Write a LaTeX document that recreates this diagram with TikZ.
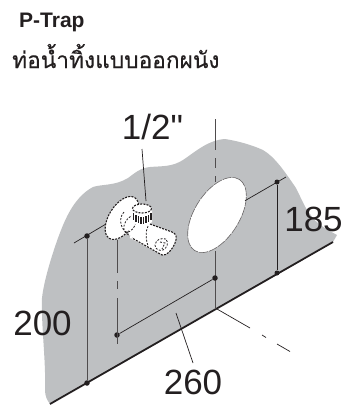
\documentclass[tikz,border=0pt]{standalone}
\usepackage{fontspec}
\setmainfont{Liberation Sans}
\newfontfamily\plainfont{Liberation Sans}
\newfontfamily\thaifont[Script=Thai,FakeBold=0.35]{Loma}
\definecolor{ink}{HTML}{231F20}
\definecolor{wall}{HTML}{BEC0C2}
\tikzset{
  dim/.style={draw=ink,line width=0.7pt},
  axisline/.style={draw=ink!80,line width=0.9pt},
  dotmark/.style={circle,fill=ink,inner sep=0pt,minimum size=5.5pt},
  biglabel/.style={text=ink,inner sep=0pt,font=\plainfont\fontsize{35}{35}\selectfont},
  hidden/.style={draw=ink,line width=1.1pt,dash pattern=on 2pt off 1.2pt,fill=white},
  thinhidden/.style={draw=ink,line width=0.8pt,dash pattern=on 2pt off 1.5pt},
  holeedge/.style={draw=ink!70,line width=0.6pt,dash pattern=on 9pt off 1pt,fill=white}
}
\begin{document}
\begin{tikzpicture}[x=1pt,y=-1pt]
\useasboundingbox (0,0) rectangle (344,405);
% wall
\fill[wall] (50,404) .. controls (47,400) and (45,396) .. (45,390)
  .. controls (46,360) and (41,325) .. (42,298)
  .. controls (44,280) and (52,255) .. (58,238)
  .. controls (63,225) and (72,198) .. (93,187)
  .. controls (102,184) and (115,186) .. (128,178)
  .. controls (135,173) and (140,168) .. (150,167)
  .. controls (162,166) and (172,167) .. (183,160)
  .. controls (195,152) and (208,140) .. (225,139)
  .. controls (238,141) and (252,145) .. (263,150)
  .. controls (275,157) and (285,172) .. (296,188)
  .. controls (302,200) and (305,208) .. (310,214)
  .. controls (316,224) and (328,230) .. (337,235)
  -- (333,242) -- cycle;
\coordinate (baseL) at (50,404);
\coordinate (baseR) at (333,242);
\draw[ink,line width=1.8pt] (baseL) -- (baseR);
% hole
\draw[holeedge] (217,215) ellipse[x radius=42,y radius=22.5,rotate=58];
% coordinates
\coordinate (a1) at (215,119); \coordinate (a2) at (215,150);
\coordinate (a3) at (215,158); \coordinate (a4) at (215,168);
\coordinate (a5) at (215,176); \coordinate (a6) at (215,182);
\coordinate (a7) at (215,251); \coordinate (a8) at (215,309);
\draw[axisline] (a1)--(a2) (a3)--(a4) (a5)--(a6) (a7)--(a8);
\node[dotmark] (d1) at (215,278) {};
\node[dotmark] (d2) at (117,335) {};
\draw[dim] (d1) -- (d2);
% left axis
\coordinate (b1) at (117,240); \coordinate (b2) at (117,273);
\coordinate (b3) at (117,281); \coordinate (b4) at (117,289);
\coordinate (b5) at (117,298); \coordinate (b6) at (117,344);
\draw[axisline] (b1)--(b2) (b3)--(b4) (b5)--(b6);
% 200
\node[dotmark] (d3) at (87,236) {};
\node[dotmark] (d4) at (87,383) {};
\draw[axisline] (d3) -- (d4);
\coordinate (t1) at (74,243); \coordinate (t2) at (106,224);
\draw[dim] (t1) -- (t2);
% 185
\node[dotmark,minimum size=5pt] (d5) at (277,182) {};
\node[dotmark,minimum size=5pt] (d6) at (277,273) {};
\draw[dim] (d5) -- (d6);
\coordinate (t3) at (245,200.7); \coordinate (t4) at (286,177);
\draw[dim] (t3) -- (t4);
% outgoing axis
\coordinate (c0) at (217,309); \coordinate (c1) at (250,328);
\coordinate (c2) at (262,335); \coordinate (c3) at (266,337.5);
\coordinate (c4) at (277,344); \coordinate (c5) at (290,351.5);
\draw[dim] (c0)--(c1) (c2)--(c3) (c4)--(c5);
% leaders
\coordinate (l1) at (142,149); \coordinate (l2) at (146,201);
\draw[dim] (l1)--(l2);
\coordinate (l3) at (176,313); \coordinate (l4) at (193,363);
\draw[dim] (l3)--(l4);
% flange
\draw[hidden] (122,218) ellipse[x radius=24,y radius=13,rotate=58];
% body
\fill[white] (125,215) -- (150,224) -- (172,232) .. controls (177,234) and (177,238) .. (175,243)
  .. controls (172,250) and (167,256) .. (162,255) -- (130,238) -- cycle;
\draw[hidden,fill=none] (150,224) -- (172,232) .. controls (177,234) and (177,238) .. (175,243)
  .. controls (172,250) and (167,256) .. (162,255) -- (132,238);
\draw[thinhidden] (148,226) .. controls (145,232) and (146,240) .. (148,246);
\draw[thinhidden] (166,239) .. controls (161,238) and (156,239) .. (155,245)
  .. controls (155,250) and (160,251) .. (163,250) .. controls (167,248) and (169,243) .. (166,239);
\draw[thinhidden] (160,242) -- (165,243) -- (162,249);
\draw[thinhidden] (130,224) ellipse[x radius=9,y radius=5,rotate=60];
\draw[thinhidden] (124,212) .. controls (118,218) and (120,230) .. (130,236);
% stem
\fill[white] (132,208) -- (152,208) -- (152,222) -- (148,225) -- (136,225) -- (132,220) -- cycle;
\foreach \x/\yy in {133.5/213,136/215,138.5/216,141/217,143.5/217,146/216,148.5/215,151/213}{
  \draw[ink,line width=1.4pt] (\x,\yy) -- (\x,\yy+7);
}
\draw[hidden] (142,208.5) ellipse[x radius=9.5,y radius=4.5];
% text
\node[anchor=base west,inner sep=0pt,text=ink,font=\bfseries\fontsize{21}{21}\selectfont] (title) at (19,27) {P-Trap};
\node[anchor=base west,inner sep=0pt,text=ink,font=\thaifont\fontsize{22.7}{24}\selectfont] (thai) at (12,68) {ท่อน้ำทิ้งแบบออกผนัง};
\node[biglabel] (half) at (152.5,126.5) {1/2"};
\node[biglabel] (l185) at (313.5,219.5) {185};
\node[biglabel] (l200) at (42.5,323) {200};
\node[biglabel] (l260) at (193,382.5) {260};
\end{tikzpicture}
\end{document}
